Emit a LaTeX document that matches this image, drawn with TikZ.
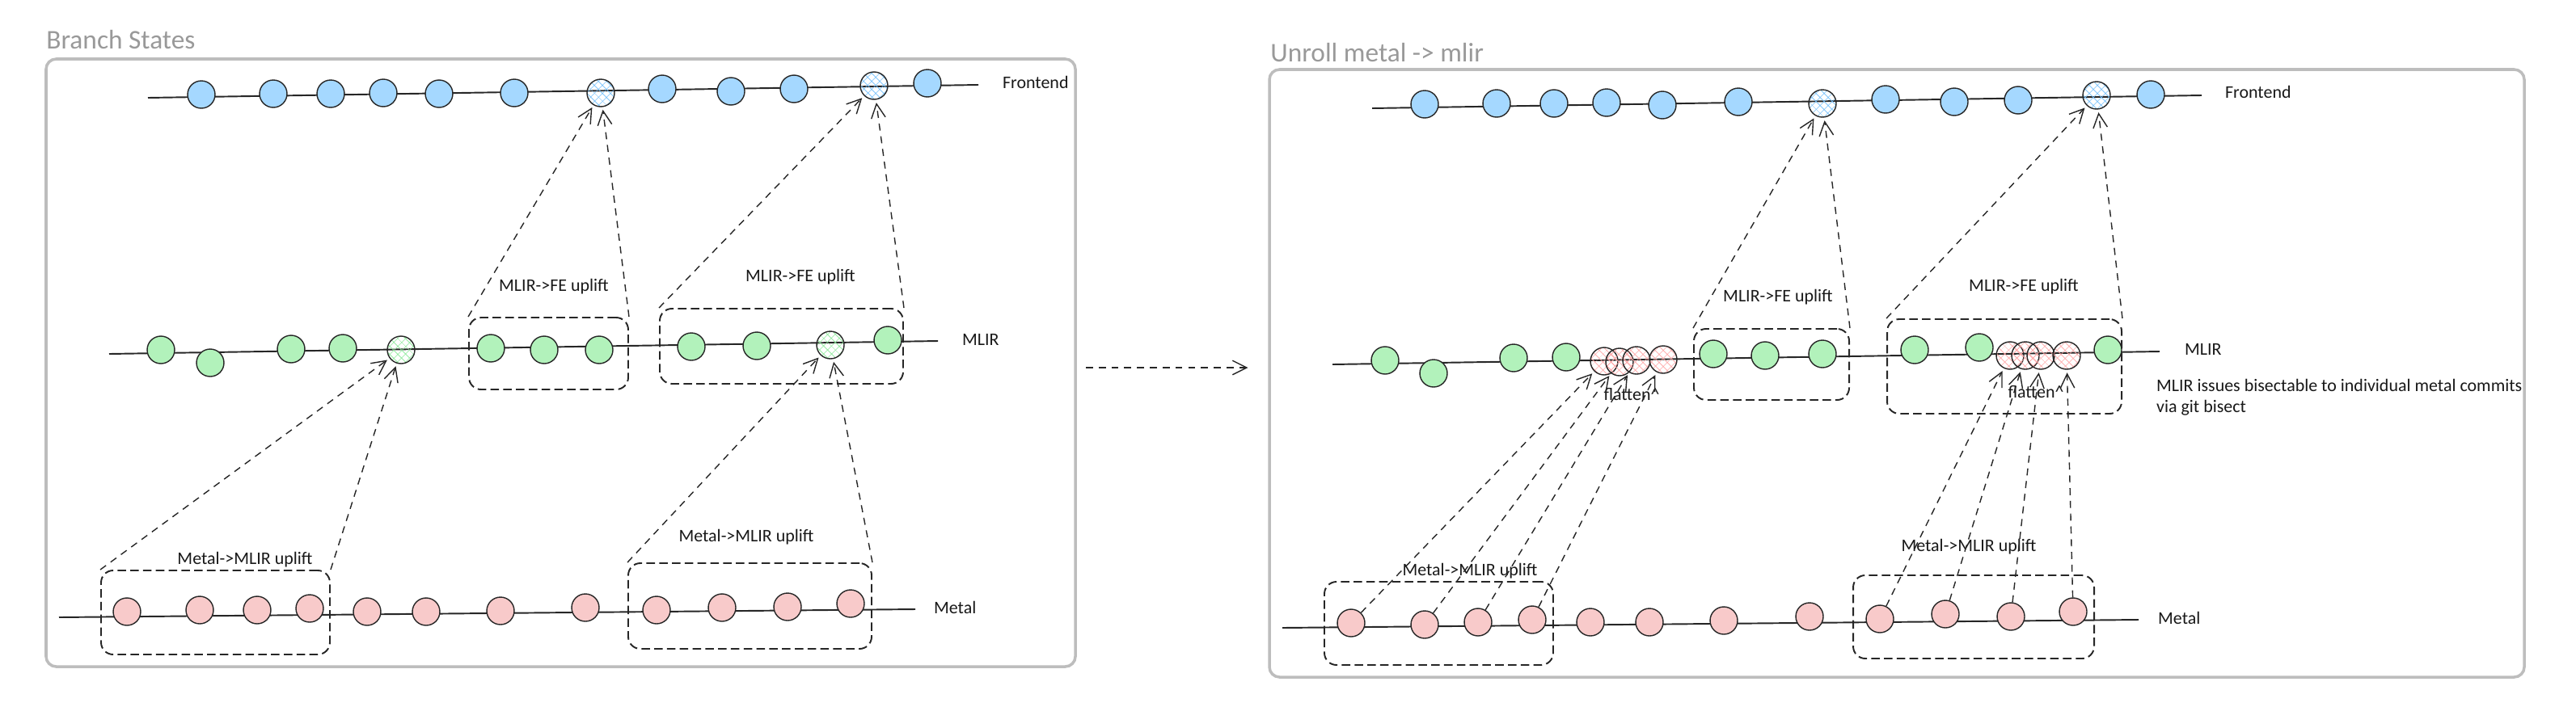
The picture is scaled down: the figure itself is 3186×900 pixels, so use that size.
\documentclass[tikz,border=0pt]{standalone}
\usepackage{fontspec}
\setmainfont{Carlito}
\usetikzlibrary{
    patterns.meta,
    arrows.meta,
    fit
}
\definecolor{feblue}{HTML}{A5D8FF}
\definecolor{fehatch}{HTML}{74C0FC}
\definecolor{irgreen}{HTML}{B2F2BB}
\definecolor{irhatch}{HTML}{8CE99A}
\definecolor{mtred}{HTML}{F8CACA}
\definecolor{mthatch}{HTML}{FFA8A8}
\definecolor{framegray}{HTML}{BDBDBD}
\definecolor{titlegray}{HTML}{999999}
\tikzset{
  commit/.style={
    circle,
    draw=black!85,
    line width=0.8pt,
    minimum size=0.68cm,
    inner sep=0pt
  },
  fe/.style={commit, fill=feblue},
  ir/.style={commit, fill=irgreen},
  mt/.style={commit, fill=mtred},
  hfe/.style={commit, pattern={Hatch[angle=45,distance=4pt,line width=0.4pt]}, pattern color=fehatch},
  hir/.style={commit, pattern={Hatch[angle=45,distance=4pt,line width=0.4pt]}, pattern color=irhatch},
  hmt/.style={commit, pattern={Hatch[angle=45,distance=4pt,line width=0.4pt]}, pattern color=mthatch},
  branch/.style={black!85, line width=1.1pt},
  upbox/.style={
    draw=black!85,
    line width=1.1pt,
    dash pattern=on 6pt off 3pt,
    rounded corners=0.3cm,
    inner sep=0pt
  },
  uplift/.style={
    black!85,
    line width=0.8pt,
    dash pattern=on 5pt off 4pt,
    shorten >=2pt,
    -{Straight Barb[length=10pt,width=10pt]}
  },
  hand/.style={font=\fontsize{12.5}{15}\selectfont, text=black!90, inner sep=1pt},
  panel/.style={draw=framegray, line width=2pt, rounded corners=0.25cm},
  paneltitle/.style={font=\fontsize{19}{22}\selectfont, text=titlegray, anchor=west, inner sep=0pt}
}

\begin{document}
\begin{tikzpicture}[x=0.02cm, y=-0.02cm]
\useasboundingbox (0,0) rectangle (3186,900);

% panels
\node[paneltitle] (ltitle) at (57,49) {Branch States};
\draw[panel] (57,73) rectangle (1330,825);
\node[paneltitle] (rtitle) at (1571,65) {Unroll metal -> mlir};
\draw[panel] (1570,86) rectangle (3122,838);

% branches
\coordinate (lf-s) at (183,121);  \coordinate (lf-e) at (1210,105);
\coordinate (lm-s) at (135,438);  \coordinate (lm-e) at (1160,422);
\coordinate (lt-s) at (73,764);   \coordinate (lt-e) at (1132,754);
\coordinate (rf-s) at (1697,134); \coordinate (rf-e) at (2723,118);
\coordinate (rm-s) at (1648,451); \coordinate (rm-e) at (2671,435);
\coordinate (rt-s) at (1586,777); \coordinate (rt-e) at (2645,767);
\foreach \br in {lf,lm,lt,rf,rm,rt}
  \draw[branch] (\br-s) -- (\br-e);

\node[hand, anchor=west] (lflabel) at (1238,102) {Frontend};
\node[hand, anchor=west] (lmlabel) at (1188,420) {MLIR};
\node[hand, anchor=west] (ltlabel) at (1153,752) {Metal};
\node[hand, anchor=west] (rflabel) at (2750,114) {Frontend};
\node[hand, anchor=west] (rmlabel) at (2700,432) {MLIR};
\node[hand, anchor=west] (rtlabel) at (2667,765) {Metal};

% commits, left
\foreach \x/\y/\s [count=\i] in {249/117/fe, 338/116/fe, 409/116/fe, 474/115/fe,
    543/116/fe, 636/115/fe, 743/115/hfe, 819/110/fe, 904/113/fe, 982/110/fe,
    1081/106/hfe, 1147/103/fe}
  \node[\s] (lf\i) at (\x,\y) {};
\foreach \x/\y/\s [count=\i] in {199/433/ir, 260/449/ir, 360/432/ir, 424/431/ir,
    496/433/hir, 607/431/ir, 673/433/ir, 741/433/ir, 855/429/ir, 936/428/ir,
    1027/427/hir, 1098/421/ir}
  \node[\s] (lm\i) at (\x,\y) {};
\foreach \x/\y [count=\i] in {157/757, 247/755, 318/755, 383/753, 454/757, 527/757,
    619/756, 724/752, 812/755, 893/752, 974/751, 1052/747}
  \node[mt] (lt\i) at (\x,\y) {};

% commits, right
\foreach \x/\y/\s [count=\i] in {1762/129/fe, 1851/128/fe, 1922/128/fe, 1987/127/fe,
    2056/130/fe, 2150/126/fe, 2254/128/hfe, 2332/123/fe, 2417/126/fe, 2496/124/fe,
    2593/118/hfe, 2660/117/fe}
  \node[\s] (rf\i) at (\x,\y) {};
\foreach \x/\y/\s [count=\i] in {1713/446/ir, 1773/462/ir, 1872/443/ir, 1937/442/ir,
    1984/447/hmt, 2003/448/hmt, 2024/446/hmt, 2057/445/hmt, 2119/438/ir, 2183/440/ir,
    2254/438/ir, 2368/433/ir, 2448/430/ir, 2486/440/hmt, 2505/440/hmt, 2524/440/hmt,
    2556/440/hmt, 2607/433/ir}
  \node[\s] (rm\i) at (\x,\y) {};
\foreach \x/\y [count=\i] in {1671/771, 1762/773, 1828/770, 1895/767, 1967/770, 2040/770,
    2132/768, 2238/763, 2325/766, 2406/760, 2487/763, 2564/757}
  \node[mt] (rt\i) at (\x,\y) {};

% uplift groups
\node[upbox, fit={(580,393) (777,482)}] (lmbox1) {};
\node[upbox, fit={(816,382) (1117,475)}] (lmbox2) {};
\node[upbox, fit={(125,706) (408,810)}] (ltbox1) {};
\node[upbox, fit={(777,697) (1078,803)}] (ltbox2) {};
\node[upbox, fit={(2095,407) (2287,495)}] (rmbox1) {};
\node[upbox, fit={(2334,395) (2624,512)}] (rmbox2) {};
\node[upbox, fit={(1638,720) (1921,823)}] (rtbox1) {};
\node[upbox, fit={(2292,712) (2590,815)}] (rtbox2) {};

\node[hand] (lfeup1) at (685,355) {MLIR->FE uplift};
\node[hand] (lfeup2) at (990,343) {MLIR->FE uplift};
\node[hand] (lirup1) at (303,693) {Metal->MLIR uplift};
\node[hand] (lirup2) at (923,665) {Metal->MLIR uplift};
\node[hand] (rfeup1) at (2199,368) {MLIR->FE uplift};
\node[hand] (rfeup2) at (2503,355) {MLIR->FE uplift};
\node[hand] (rirup1) at (1818,707) {Metal->MLIR uplift};
\node[hand] (rirup2) at (2435,677) {Metal->MLIR uplift};
\node[hand] (flat1) at (2018,488) {flatten\textasciicircum};
\node[hand] (flat2) at (2518,485) {flatten\textasciicircum};
\node[hand, anchor=west, align=left] (bisect) at (2665,492)
  {MLIR issues bisectable to individual metal commits\\via git bisect};

% arrows
\draw[uplift] (lmbox1.north west) -- (lf7);
\draw[uplift] (lmbox1.north east) -- (lf7);
\draw[uplift] (lmbox2.north west) -- (lf11);
\draw[uplift] (lmbox2.north east) -- (lf11);
\draw[uplift] (ltbox1.north west) -- (lm5);
\draw[uplift] (ltbox1.north east) -- (lm5);
\draw[uplift] (ltbox2.north west) -- (lm11);
\draw[uplift] (ltbox2.north east) -- (lm11);
\draw[uplift] (rmbox1.north west) -- (rf7);
\draw[uplift] (rmbox1.north east) -- (rf7);
\draw[uplift] (rmbox2.north west) -- (rf11);
\draw[uplift] (rmbox2.north east) -- (rf11);
\foreach \a/\b in {1/5, 2/6, 3/7, 4/8, 9/14, 10/15, 11/16, 12/17}
  \draw[uplift] (rt\a) -- (rm\b);

\coordinate (mid-s) at (1343,455);
\coordinate (mid-e) at (1547,455);
\draw[uplift] (mid-s) -- (mid-e);
\end{tikzpicture}
\end{document}
